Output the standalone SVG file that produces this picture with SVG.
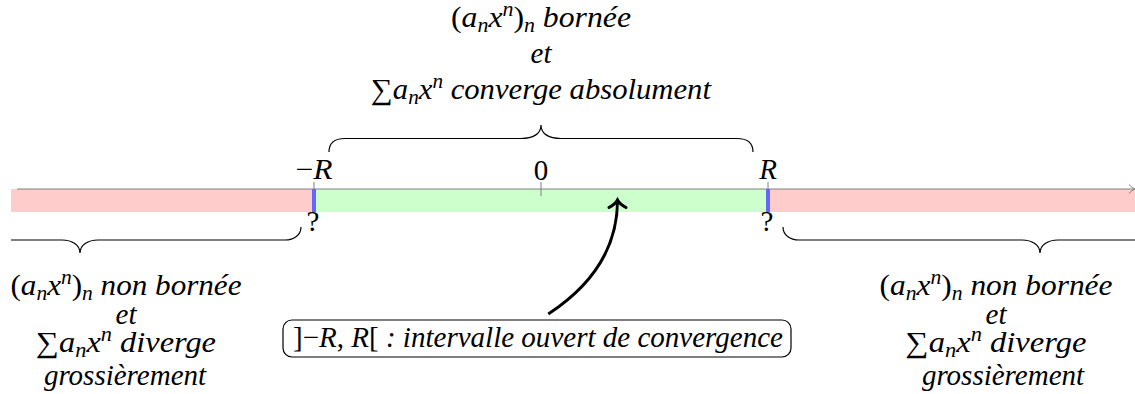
<svg xmlns="http://www.w3.org/2000/svg" width="1135" height="394" viewBox="0 0 1135 394">
<defs>
<style>
.t{font-family:"Liberation Serif","Times New Roman",serif;font-size:29px;fill:#000;font-style:italic}
.u{font-style:normal}
.s{font-size:20px}
.brace{fill:none;stroke:#000;stroke-width:1.2}
.tick{stroke:#808080;stroke-width:1}
.band-red{fill:#ffcccc}
.band-green{fill:#ccffcc}
.band-blue{fill:#6666ff}
</style>
<marker id="tip" markerUnits="userSpaceOnUse" markerWidth="24" markerHeight="24" viewBox="-12 -12 24 24" refX="0" refY="0" orient="auto" overflow="visible">
<path d="M-7.5,-8.5 C-5,-4 -2,-1 0,0 C-2,1 -5,4 -7.5,8.5" fill="none" stroke="#000" stroke-width="3" stroke-linecap="round"/>
</marker>
</defs>
<rect width="1135" height="394" fill="#fff"/>
<g id="axis">
<rect class="band-red" x="11" y="189" width="301" height="23"/>
<rect class="band-green" x="316" y="189" width="450" height="23"/>
<rect class="band-red" x="770" y="189" width="365" height="23"/>
<line x1="17" y1="189" x2="1135" y2="189" stroke="#808080" stroke-width="1"/>
<path d="M1129,184.5 Q1132,188 1135,189 M1129,193.5 Q1132,190 1135,189" fill="none" stroke="#808080" stroke-width="1"/>
<line class="tick" x1="314" y1="182" x2="314" y2="196"/>
<line class="tick" x1="541" y1="182" x2="541" y2="196"/>
<line class="tick" x1="768" y1="182" x2="768" y2="196"/>
<rect class="band-blue" x="312" y="189" width="4" height="23"/>
<rect class="band-blue" x="766" y="189" width="4" height="23"/>
<text class="t" x="314" y="179" text-anchor="middle" textLength="37" lengthAdjust="spacingAndGlyphs"><tspan class="u">−</tspan>R</text>
<text class="t u" x="541" y="180" text-anchor="middle">0</text>
<text class="t" x="768" y="179" text-anchor="middle">R</text>
<text class="t u" x="313" y="231" text-anchor="middle">?</text>
<text class="t u" x="767" y="231" text-anchor="middle">?</text>
</g>
<g id="braces">
<path class="brace" d="M329,152 C329,143 335,138.5 345,138.5 L521,138.5 C533,138.5 541,134 541,125 C541,134 549,138.5 561,138.5 L737,138.5 C747,138.5 753,143 753,152"/>
<path class="brace" d="M11,240 L62,240 C72,240 80,245 80,253 C80,245 88,240 98,240 L285,240 C294,240 301,235 301,227"/>
<path class="brace" d="M783,227 C783,235 790,240 799,240 L1022,240 C1032,240 1040,245 1040,253 C1040,245 1048,240 1058,240 L1135,240"/>
</g>
<g id="top-label">
<text class="t" x="541" y="27" text-anchor="middle" textLength="180" lengthAdjust="spacingAndGlyphs"><tspan class="u">(</tspan>a<tspan class="s" dy="5">n</tspan><tspan dy="-5">x</tspan><tspan class="s" dy="-11">n</tspan><tspan class="u" dy="11">)</tspan><tspan class="s" dy="5">n</tspan><tspan dy="-5"> bornée</tspan></text>
<text class="t" x="541" y="63" text-anchor="middle">et</text>
<text class="t" x="541" y="99" text-anchor="middle" textLength="340" lengthAdjust="spacingAndGlyphs"><tspan class="u">∑</tspan>a<tspan class="s" dy="5">n</tspan><tspan dy="-5">x</tspan><tspan class="s" dy="-11">n</tspan><tspan dy="11"> converge absolument</tspan></text>
</g>
<g id="left-label">
<text class="t" x="126" y="295" text-anchor="middle" textLength="231" lengthAdjust="spacingAndGlyphs"><tspan class="u">(</tspan>a<tspan class="s" dy="5">n</tspan><tspan dy="-5">x</tspan><tspan class="s" dy="-11">n</tspan><tspan class="u" dy="11">)</tspan><tspan class="s" dy="5">n</tspan><tspan dy="-5"> non bornée</tspan></text>
<text class="t" x="126" y="324" text-anchor="middle">et</text>
<text class="t" x="126" y="352" text-anchor="middle" textLength="180" lengthAdjust="spacingAndGlyphs"><tspan class="u">∑</tspan>a<tspan class="s" dy="5">n</tspan><tspan dy="-5">x</tspan><tspan class="s" dy="-11">n</tspan><tspan dy="11"> diverge</tspan></text>
<text class="t" x="125" y="385" text-anchor="middle">grossièrement</text>
</g>
<g id="right-label">
<text class="t" x="996" y="295" text-anchor="middle" textLength="233" lengthAdjust="spacingAndGlyphs"><tspan class="u">(</tspan>a<tspan class="s" dy="5">n</tspan><tspan dy="-5">x</tspan><tspan class="s" dy="-11">n</tspan><tspan class="u" dy="11">)</tspan><tspan class="s" dy="5">n</tspan><tspan dy="-5"> non bornée</tspan></text>
<text class="t" x="996" y="324" text-anchor="middle">et</text>
<text class="t" x="996" y="352" text-anchor="middle" textLength="181" lengthAdjust="spacingAndGlyphs"><tspan class="u">∑</tspan>a<tspan class="s" dy="5">n</tspan><tspan dy="-5">x</tspan><tspan class="s" dy="-11">n</tspan><tspan dy="11"> diverge</tspan></text>
<text class="t" x="1003" y="385" text-anchor="middle">grossièrement</text>
</g>
<g id="interval-box">
<rect x="283" y="320" width="508" height="37" rx="9" fill="#fff" stroke="#000" stroke-width="1.2"/>
<text class="t" x="538" y="347" text-anchor="middle" textLength="490" lengthAdjust="spacingAndGlyphs"><tspan class="u">]−</tspan>R<tspan class="u">, </tspan>R<tspan class="u">[</tspan> : intervalle ouvert de convergence</text>
</g>
<g id="connectors">
<path d="M548.3,314 C585,290 617.5,255 617.5,200" fill="none" stroke="#000" stroke-width="3" marker-end="url(#tip)"/>
</g>
</svg>
